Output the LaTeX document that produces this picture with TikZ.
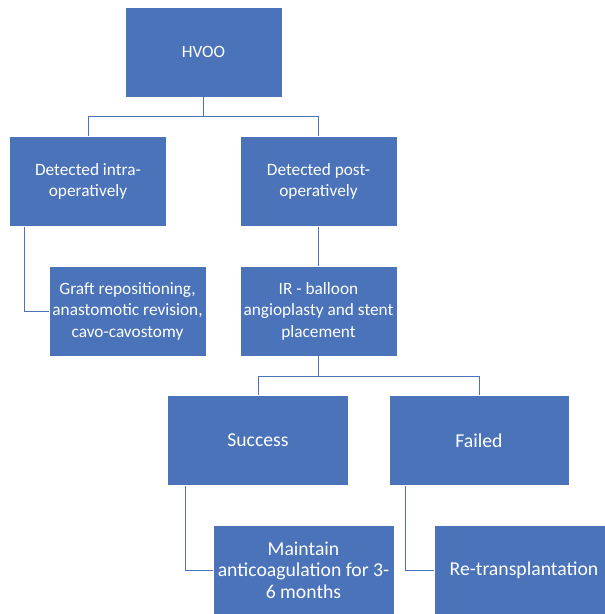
\documentclass[tikz,border=0pt]{standalone}
\usepackage{fontspec}
\setmainfont{Carlito}
\definecolor{officeblue}{HTML}{4A73BA}

\begin{document}
\begin{tikzpicture}[x=1pt, y=-1pt, node distance=129.5pt]
  % Define styles
  \tikzstyle{box} = [rectangle, minimum width=157pt, minimum height=90pt, align=center, draw=white, line width=0.6pt, fill=officeblue, text=white, inner sep=2pt, font=\fontsize{17.3}{21.5}\selectfont]
  \tikzstyle{widebox} = [box, minimum width=181pt, font=\fontsize{19.7}{21.5}\selectfont]
  \tikzstyle{line} = [draw=officeblue, line width=1pt]

  \useasboundingbox (0,0) rectangle (605,614);

  % Place nodes
  \node [box] (hvoo) at (203.5,52) {HVOO};
  \node [box, below of=hvoo, xshift=-115.5pt] (intraop) {Detected intra-\\operatively};
  \node [box, below of=hvoo, xshift=115pt] (postop) {Detected post-\\operatively};
  \node [box, below of=intraop, xshift=39.5pt] (graftrev) {Graft repositioning,\\anastomotic revision,\\cavo-cavostomy};
  \node [box, below of=postop] (irballoon) {IR - balloon\\angioplasty and stent\\placement};
  \node [widebox, below of=irballoon, xshift=-60.5pt] (success) {Success};
  \node [widebox, below of=irballoon, xshift=160.5pt, minimum width=180pt] (failed) {Failed};
  \node [widebox, below of=success, xshift=45.5pt] (anticoag) {Maintain\\anticoagulation for 3-\\6 months};
  \node [widebox, below of=failed, xshift=45pt, minimum width=180pt] (retransp) {Re-transplantation};

  % Draw edges
  \path [line] (hvoo.south) -- ++(0,19) -| (intraop.north);
  \path [line] (hvoo.south) -- ++(0,19) -| (postop.north);
  \path [line] ([xshift=15pt]intraop.south west) |- (graftrev.west);
  \path [line] (postop.south) -- (irballoon.north);
  \path [line] (irballoon.south) -- ++(0,20) -| (success.north);
  \path [line] (irballoon.south) -- ++(0,20) -| (failed.north);
  \path [line] ([xshift=18pt]success.south west) |- (anticoag.west);
  \path [line] ([xshift=17pt]failed.south west) |- (retransp.west);

\end{tikzpicture}
\end{document}
